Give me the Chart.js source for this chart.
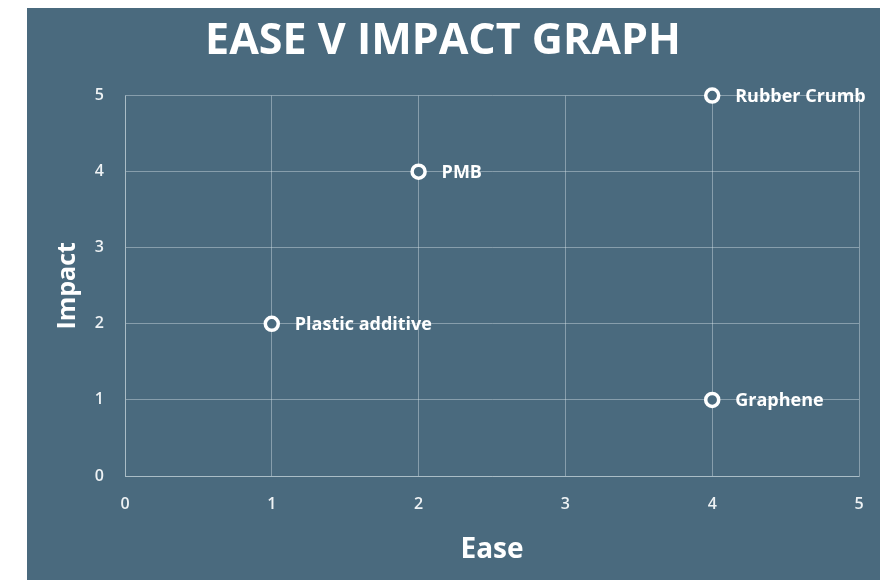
<!DOCTYPE html>
<html>
<head>
<meta charset="utf-8">
<script src="https://cdn.jsdelivr.net/npm/chart.js@4"></script>
<style>
  html, body { margin: 0; padding: 0; background: #ffffff; width: 887px; height: 581px; overflow: hidden; }
  #wrap { position: absolute; left: 27px; top: 8px; width: 853px; height: 572px; background: #4a6a7e; }
  canvas { display: block; }
</style>
</head>
<body>
<div id="wrap"><canvas id="c" width="853" height="572"></canvas></div>
<script>
const labels = ["Plastic additive", "PMB", "Rubber Crumb", "Graphene"];
const easeValues = [1, 2, 4, 4];
const impactValues = [2, 4, 5, 1];
const xTicks = [0, 1, 2, 3, 4, 5];
const yTicks = [0, 1, 2, 3, 4, 5];

const BG = "#4a6a7e";
const GRID = "rgba(220,230,235,0.42)";
const FONT = "'Open Sans', 'Noto Sans', sans-serif";

const points = easeValues.map((x, i) => ({ x: x, y: impactValues[i], label: labels[i] }));

const labelPlugin = {
  id: "pointLabels",
  afterDatasetsDraw(chart) {
    const ctx = chart.ctx;
    const meta = chart.getDatasetMeta(0);
    ctx.save();
    ctx.font = "bold 18px " + FONT;
    ctx.fillStyle = "#ffffff";
    ctx.textAlign = "left";
    ctx.textBaseline = "middle";
    meta.data.forEach((el, i) => {
      ctx.fillText(labels[i], el.x + 23, el.y + 1);
    });
    ctx.restore();
  }
};

new Chart(document.getElementById("c"), {
  type: "scatter",
  data: {
    datasets: [{
      data: points,
      clip: false,
      pointRadius: 6.5,
      pointHoverRadius: 6.5,
      pointBorderWidth: 3.5,
      pointBorderColor: "#ffffff",
      pointBackgroundColor: BG
    }]
  },
  options: {
    responsive: false,
    animation: false,
    events: [],
    layout: { padding: { left: 0, right: 21, top: 0, bottom: 0 } },
    plugins: {
      legend: { display: false },
      tooltip: { enabled: false },
      title: {
        display: true,
        text: "EASE V IMPACT GRAPH",
        color: "#ffffff",
        font: { family: FONT, size: 43, weight: "bold" },
        padding: { top: 8, bottom: 28 }
      }
    },
    scales: {
      x: {
        type: "linear",
        min: 0, max: 5,
        afterBuildTicks(scale) { scale.ticks = xTicks.map(v => ({ value: v })); },
        afterFit(scale) { scale.height = 104; },
        grid: { color: GRID, drawTicks: true, tickLength: 16, tickColor: "rgba(0,0,0,0)", lineWidth: 1 },
        border: { color: GRID },
        ticks: { color: "#eef2f4", font: { family: FONT, size: 16, weight: "600" }, padding: 3 },
        title: {
          display: true, text: "Ease", color: "#ffffff",
          font: { family: FONT, size: 28, weight: "bold" },
          padding: { top: 0, bottom: 13 }
        }
      },
      y: {
        type: "linear",
        min: 0, max: 5,
        afterBuildTicks(scale) { scale.ticks = yTicks.map(v => ({ value: v })); },
        afterFit(scale) { scale.width = 98; },
        grid: { color: GRID, drawTicks: false, lineWidth: 1 },
        border: { color: GRID },
        ticks: { color: "#eef2f4", font: { family: FONT, size: 16, weight: "600" }, padding: 21 },
        title: {
          display: true, text: "Impact", color: "#ffffff",
          font: { family: FONT, size: 25, weight: "bold" },
          padding: { top: 26, bottom: 0 }
        }
      }
    }
  },
  plugins: [labelPlugin]
});
</script>
</body>
</html>
